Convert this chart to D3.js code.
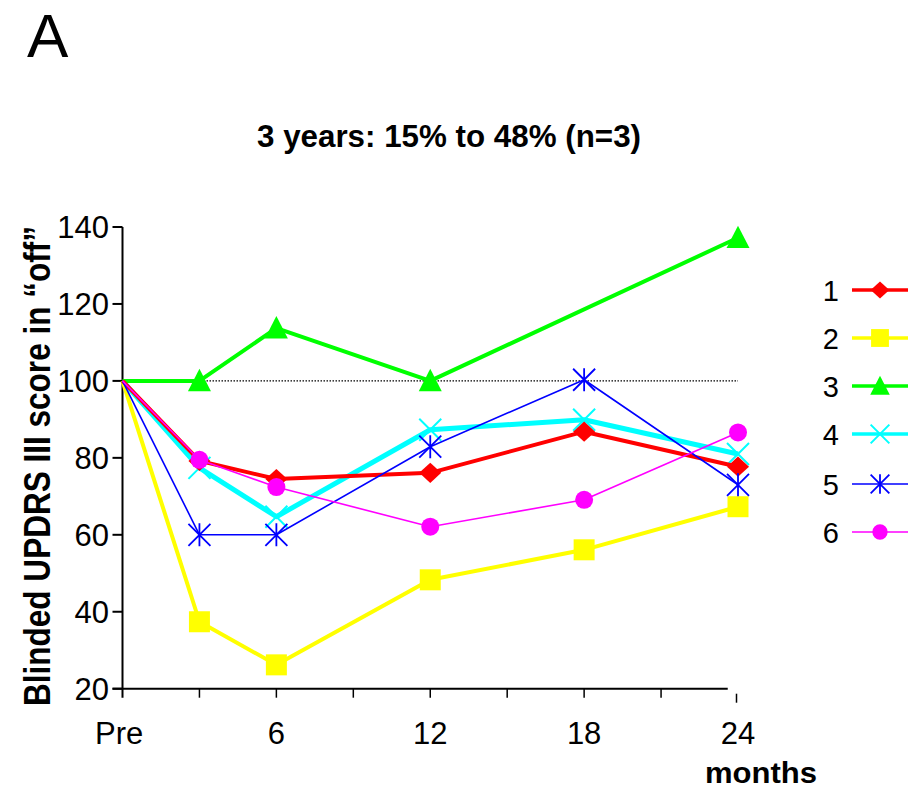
<!DOCTYPE html>
<html>
<head>
<meta charset="utf-8">
<script src="https://cdn.jsdelivr.net/npm/d3@7"></script>
<style>
  html, body { margin: 0; padding: 0; background: #fff; }
  svg { display: block; font-family: "Liberation Sans", Arial, sans-serif; }
</style>
</head>
<body>
<svg id="chart" width="909" height="791"></svg>
<script>
// ---- Data ----
const months = [0, 3, 6, 12, 18, 24];
const xTickValues = [0, 6, 12, 18, 24];
const xTickLabels = ["Pre", "6", "12", "18", "24"];
const xMinorTicks = [3, 9, 15, 21];
const yTickValues = [20, 40, 60, 80, 100, 120, 140];
const seriesNames = ["1", "2", "3", "4", "5", "6"];
const seriesColors = ["#ff0000", "#ffff00", "#00ff00", "#00ffff", "#0000ff", "#ff00ff"];
const seriesMarkers = ["diamond", "square", "triangle", "cross", "asterisk", "circle"];
const seriesWidths = [4, 4, 4, 5, 1.6, 1.6];
const patient1 = [100, 79.2, 74.5, 76.1, 86.8, 77.7];
const patient2 = [100, 37.4, 26.2, 48.3, 56.1, 67.3];
const patient3 = [100, 100, 113.7, 100, null, 137.2];
const patient4 = [100, 77.4, 64.7, 87.3, 89.9, 81.0];
const patient5 = [100, 60.0, 60.0, 82.9, 100.3, 73.0];
const patient6 = [100, 79.5, 72.4, 62.1, 69.1, 86.6];
const allSeries = [patient1, patient2, patient3, patient4, patient5, patient6];
const referenceValue = 100;
const drawOrder = [3, 2, 1, 0, 4, 5];
const titleText = "3 years: 15% to 48% (n=3)";
const panelLabel = "A";
const yAxisTitle = "Blinded UPDRS III score in \u201coff\u201d";
const xAxisTitle = "months";

// ---- Scales ----
const svg = d3.select("#chart");
const x = d3.scaleLinear().domain([0, 24]).range([122.5, 738]);
const y = d3.scaleLinear().domain([20, 140]).range([688.7, 227]);

// marker shape generator (shape around origin)
function markerPath(type, s) {
  const h = s / 2;
  switch (type) {
    case "diamond": return `M0,${-h*0.92}L${h},0L0,${h*0.92}L${-h},0Z`;
    case "square": return `M${-h},${-h}H${h}V${h}H${-h}Z`;
    case "triangle": return `M0,${-h*1.05}L${h},${h*0.9}L${-h},${h*0.9}Z`;
    case "cross": return `M${-h},${-h}L${h},${h}M${-h},${h}L${h},${-h}`;
    case "asterisk": return `M${-h},${-h}L${h},${h}M${-h},${h}L${h},${-h}M0,${-h*1.05}V${h*1.05}`;
    case "circle": return `M${h},0A${h},${h} 0 1,1 ${-h},0A${h},${h} 0 1,1 ${h},0Z`;
  }
}
const markerSize = { diamond: 22, square: 21, triangle: 23, cross: 22, asterisk: 22, circle: 18 };
function drawMarker(g, type, color, cx, cy, scale) {
  const s = markerSize[type] * scale;
  const p = g.append("path").attr("d", markerPath(type, s)).attr("transform", `translate(${cx},${cy})`);
  if (type === "cross" || type === "asterisk") {
    p.attr("fill", "none").attr("stroke", color).attr("stroke-width", type === "cross" ? 2 : 1.8);
  } else {
    p.attr("fill", color).attr("stroke", "none");
  }
}

// ---- Panel label and title ----
svg.append("text").attr("x", 27).attr("y", 57).attr("font-size", 62).text(panelLabel);
svg.append("text").attr("x", 449).attr("y", 147).attr("text-anchor", "middle")
  .attr("font-size", 31).attr("font-weight", "bold")
  .attr("textLength", 384).attr("lengthAdjust", "spacingAndGlyphs").text(titleText);

// ---- Axes ----
const axisColor = "#000";
svg.append("line").attr("x1", x(0)).attr("x2", x(0)).attr("y1", y(140)).attr("y2", y(20) + 9)
  .attr("stroke", axisColor).attr("stroke-width", 2);
yTickValues.forEach(v => {
  svg.append("line").attr("x1", x(0) - 10).attr("x2", x(0)).attr("y1", y(v)).attr("y2", y(v))
    .attr("stroke", axisColor).attr("stroke-width", 2);
  svg.append("text").attr("x", 109).attr("y", y(v) + 11).attr("text-anchor", "end")
    .attr("font-size", 31).text(v);
});
svg.append("line").attr("x1", x(0) - 10).attr("x2", x(23.6)).attr("y1", y(20)).attr("y2", y(20))
  .attr("stroke", axisColor).attr("stroke-width", 2);
[...xTickValues, ...xMinorTicks].forEach(v => {
  if (v === 0) return;
  const off = v === 24 ? 5 : 0;
  const dx = v === 24 ? -1.5 : 0;
  svg.append("line").attr("x1", x(v) + dx).attr("x2", x(v) + dx)
    .attr("y1", y(20) + off).attr("y2", y(20) + 9 + off)
    .attr("stroke", axisColor).attr("stroke-width", 1.5);
});
xTickValues.forEach((v, i) => {
  svg.append("text").attr("x", i === 0 ? 95 : x(v)).attr("y", 744)
    .attr("text-anchor", i === 0 ? "start" : "middle")
    .attr("font-size", 31)
    .text(xTickLabels[i]);
});
svg.append("text").attr("x", 761).attr("y", 783).attr("text-anchor", "middle")
  .attr("font-size", 30).attr("font-weight", "bold")
  .attr("textLength", 112).attr("lengthAdjust", "spacingAndGlyphs").text(xAxisTitle);
svg.append("text").attr("transform", "translate(50,466) rotate(-90)").attr("text-anchor", "middle")
  .attr("font-size", 36).attr("font-weight", "bold")
  .attr("textLength", 480).attr("lengthAdjust", "spacingAndGlyphs").text(yAxisTitle);

// Reference dotted line
svg.append("line").attr("x1", x(0)).attr("x2", x(24)).attr("y1", y(referenceValue)).attr("y2", y(referenceValue))
  .attr("stroke", "#000").attr("stroke-width", 1.2).attr("stroke-dasharray", "1.5,1.5");

// ---- Series ----
const line = d3.line().x(d => x(d.m)).y(d => y(d.v));
drawOrder.forEach(si => {
  const pts = months.map((m, j) => ({ m, v: allSeries[si][j] })).filter(d => d.v !== null);
  const g = svg.append("g");
  g.append("path").attr("d", line(pts)).attr("fill", "none")
    .attr("stroke", seriesColors[si]).attr("stroke-width", seriesWidths[si])
    .attr("stroke-linejoin", "round");
  pts.forEach(d => {
    if (d.m === 0) return;
    drawMarker(g, seriesMarkers[si], seriesColors[si], x(d.m), y(d.v), 1);
  });
});

// ---- Legend ----
const legendRowsY = [290, 338, 386, 434, 484, 532];
seriesNames.forEach((name, i) => {
  const g = svg.append("g");
  const ly = legendRowsY[i];
  g.append("text").attr("x", 839).attr("y", ly + 11).attr("text-anchor", "end")
    .attr("font-size", 29).text(name);
  g.append("line").attr("x1", 852).attr("x2", 908).attr("y1", ly).attr("y2", ly)
    .attr("stroke", seriesColors[i]).attr("stroke-width", Math.min(seriesWidths[i], 3.5));
  drawMarker(g, seriesMarkers[i], seriesColors[i], 880, ly, 0.85);
});
</script>
</body>
</html>
